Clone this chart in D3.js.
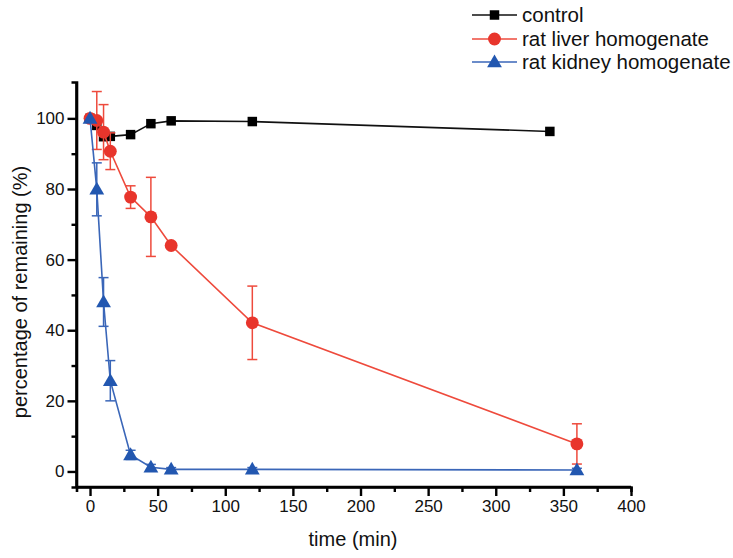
<!DOCTYPE html>
<html>
<head>
<meta charset="utf-8">
<script src="https://cdn.jsdelivr.net/npm/d3@7"></script>
<style>
  body { margin: 0; background: #fff; }
  svg { display: block; font-family: "Liberation Sans", Arial, sans-serif; }
</style>
</head>
<body>
<svg id="chart" width="733" height="558"></svg>
<script>
// ---- data ----
const controlTime = [0, 5, 10, 15, 30, 45, 60, 120, 340];
const controlValue = [100, 98.0, 94.8, 94.9, 95.4, 98.5, 99.3, 99.1, 96.3];

const liverTime = [0, 5, 10, 15, 30, 45, 60, 120, 360];
const liverValue = [100, 99.4, 96.1, 90.7, 77.7, 72.1, 64.0, 42.1, 7.8];
const liverError = [0, 8.2, 7.8, 5.2, 3.2, 11.2, 0.8, 10.4, 5.7];

const kidneyTime = [0, 5, 10, 15, 30, 45, 60, 120, 360];
const kidneyValue = [100, 79.9, 48.0, 25.7, 4.7, 1.2, 0.6, 0.6, 0.4];
const kidneyError = [0, 7.5, 6.9, 5.7, 1.3, 0.8, 0.5, 0.5, 0.5];

const xMajorTicks = [0, 50, 100, 150, 200, 250, 300, 350, 400];
const xMinorTicks = [25, 75, 125, 175, 225, 275, 325, 375];
const yMajorTicks = [0, 20, 40, 60, 80, 100];
const yMinorTicks = [10, 30, 50, 70, 90];

const seriesNames = ["control", "rat liver homogenate", "rat kidney homogenate"];
const seriesColors = ["#000000", "#e8352c", "#2257b0"];
const lineColors = ["#111111", "#ee4a3c", "#3a66b8"];

// ---- scales ----
const svg = d3.select("#chart");
const x = d3.scaleLinear().domain([-10, 400]).range([76.5, 631]);
const y = d3.scaleLinear().domain([-4.4, 110.3]).range([487, 82]);

// ---- axes ----
const axisG = svg.append("g");
const xAxis = axisG.append("g").attr("transform", "translate(0,487)")
  .call(d3.axisBottom(x).tickValues(xMajorTicks).tickSize(9).tickPadding(4).tickFormat(d3.format("d")));
const xMinor = axisG.append("g").attr("transform", "translate(0,487)")
  .call(d3.axisBottom(x).tickValues(xMinorTicks).tickSize(5).tickFormat(""));
const yAxis = axisG.append("g").attr("transform", "translate(76.5,0)")
  .call(d3.axisLeft(y).tickValues(yMajorTicks).tickSize(9).tickPadding(3).tickFormat(d3.format("d")));
const yMinor = axisG.append("g").attr("transform", "translate(76.5,0)")
  .call(d3.axisLeft(y).tickValues(yMinorTicks).tickSize(5).tickFormat(""));

[xAxis, xMinor, yAxis, yMinor].forEach(g => {
  g.select(".domain").attr("stroke", "#000").attr("stroke-width", 2.6);
  g.selectAll(".tick line").attr("stroke", "#000").attr("stroke-width", 2.4);
  g.selectAll(".tick text").attr("fill", "#111").attr("font-size", 17);
});
xAxis.select(".domain").attr("d", `M${x(-10)},0H${x(400)}`);
yAxis.select(".domain").attr("d", `M0,${y(-4.4)}V${y(110.3)}`);

// axis titles
svg.append("text").attr("x", 353).attr("y", 546).attr("text-anchor", "middle")
  .attr("font-size", 20).attr("fill", "#111").text("time (min)");
svg.append("text").attr("transform", "translate(27,292) rotate(-90)")
  .attr("text-anchor", "middle").attr("font-size", 20).attr("fill", "#111")
  .text("percentage of remaining (%)");

// ---- series ----
const series = [
  { t: controlTime, v: controlValue, e: null, shape: d3.symbolSquare, size: 90 },
  { t: liverTime, v: liverValue, e: liverError, shape: d3.symbolCircle, size: 130 },
  { t: kidneyTime, v: kidneyValue, e: kidneyError, shape: d3.symbolTriangle, size: 95 }
];

const line = d3.line().x(d => x(d[0])).y(d => y(d[1]));

[0, 1, 2].forEach(i => {
  const s = series[i];
  const pts = s.t.map((t, k) => [t, s.v[k], s.e ? s.e[k] : 0]);
  const g = svg.append("g");
  if (s.e) {
    pts.filter(p => p[2] > 0).forEach(p => {
      const xx = x(p[0]), y1 = y(p[1] + p[2]), y2 = y(p[1] - p[2]);
      g.append("line").attr("x1", xx).attr("x2", xx).attr("y1", y1).attr("y2", y2)
        .attr("stroke", lineColors[i]).attr("stroke-width", 1.5);
      [y1, y2].forEach(yy => g.append("line").attr("x1", xx - 5).attr("x2", xx + 5)
        .attr("y1", yy).attr("y2", yy).attr("stroke", lineColors[i]).attr("stroke-width", 1.5));
    });
  }
  g.append("path").datum(pts).attr("d", line).attr("fill", "none")
    .attr("stroke", lineColors[i]).attr("stroke-width", 1.6);
  g.selectAll("path.m").data(pts).enter().append("path").attr("class", "m")
    .attr("transform", p => `translate(${x(p[0])},${y(p[1]) + (i === 2 ? 1 : 0)})`)
    .attr("d", d3.symbol().type(s.shape).size(s.size))
    .attr("fill", seriesColors[i]);
});

// ---- legend ----
const legendY = [15, 39, 62];
seriesNames.forEach((name, i) => {
  const g = svg.append("g").attr("transform", `translate(0,${legendY[i]})`);
  g.append("line").attr("x1", 472).attr("x2", 517).attr("y1", 0).attr("y2", 0)
    .attr("stroke", lineColors[i]).attr("stroke-width", 1.6);
  g.append("path").attr("transform", `translate(494.5,${i === 2 ? 1 : 0})`)
    .attr("d", d3.symbol().type(series[i].shape).size(series[i].size))
    .attr("fill", seriesColors[i]);
  g.append("text").attr("x", 522).attr("y", 7).attr("font-size", 20.5)
    .attr("fill", "#111").text(name);
});
</script>
</body>
</html>
